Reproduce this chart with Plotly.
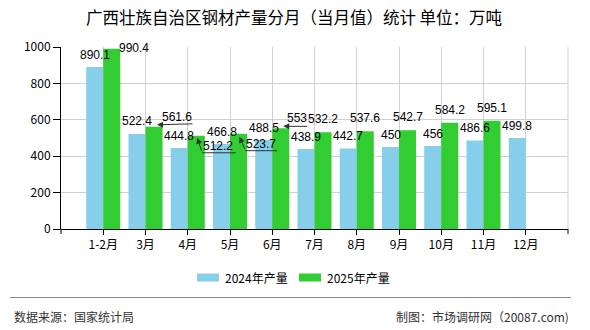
import plotly.graph_objects as go

# ---- data ----
categories = ["1-2月", "3月", "4月", "5月", "6月", "7月", "8月", "9月", "10月", "11月", "12月"]
prod_2024 = [890.1, 522.4, 444.8, 466.8, 488.5, 438.9, 442.7, 450, 456, 486.6, 499.8]
prod_2025 = [990.4, 561.6, 512.2, 523.7, 553, 532.2, 537.6, 542.7, 584.2, 595.1, None]
series_names = ["2024年产量", "2025年产量"]
title_text = "广西壮族自治区钢材产量分月（当月值）统计 单位：万吨"
source_text = "数据来源：国家统计局"
maker_text = "制图：市场调研网（20087.com)"

# ---- style ----
FONT = "Noto Sans CJK SC"
NUMFONT = "Liberation Sans"
C24 = "#87CEEB"
C25 = "#32CD32"
W, H = 590, 330
L, R, T, B = 61, 22, 47, 101
BARGAP = 0.195
half = (1 - BARGAP) / 4  # offset of each bar centre from category centre


def px(x):
    return (x - L) / (W - L - R)


def py(y):
    return (H - B - y) / (H - T - B)


fig = go.Figure()
fig.add_trace(go.Bar(x=categories, y=prod_2024, name=series_names[0], marker_color=C24,
                     marker_line_width=0, showlegend=False))
fig.add_trace(go.Bar(x=categories, y=prod_2025, name=series_names[1], marker_color=C25,
                     marker_line_width=0, showlegend=False))

ann = []
shapes = []
lab_font = dict(family=NUMFONT, size=12, color="#000")

# 2024 labels: centred above blue bars
for i, v in enumerate(prod_2024):
    ann.append(dict(x=i - half, y=v, xref="x", yref="y", text=f"{v:g}", showarrow=False,
                    yanchor="middle", xanchor="center", yshift=12.5, font=lab_font, borderpad=0))

# 2025 labels; some are displaced with leader lines (pixel offsets from bar top, dy down)
special = {
    0: dict(label=(22, -1)),
    1: dict(label=(23, -10), tip=(3, -2), knee=None, tail=(40, -3)),
    2: dict(label=(22, 10), tip=(1, 2), knee=(6, 17), tail=(41, 17)),
    3: dict(label=(22, 10), tip=(1, 3), knee=(7, 17), tail=(40, 17)),
    4: dict(label=(16, -10), tip=(2.5, -2), knee=None, tail=(28, -2)),
}
line_col = "#333333"
for i, v in enumerate(prod_2025):
    if v is None:
        continue
    xc = i + half
    if i in special:
        sp = special[i]
        dx, dy = sp["label"]
        ann.append(dict(x=xc, y=v, xref="x", yref="y", text=f"{v:g}", showarrow=False,
                        xanchor="center", yanchor="middle", xshift=dx, yshift=-dy,
                        font=lab_font, borderpad=0))
        if "tip" in sp:
            tx, ty = sp["tip"]
            start = sp["knee"] if sp["knee"] else sp["tail"]
            ann.append(dict(x=xc, y=v, xref="x", yref="y", text="", showarrow=True,
                            xshift=tx, yshift=-ty, ax=start[0] - tx, ay=start[1] - ty,
                            arrowhead=2, arrowsize=1.2, arrowwidth=1, arrowcolor=line_col,
                            standoff=0, startstandoff=0))
            if sp["knee"]:
                kx, ky = sp["knee"]
                ex, ey = sp["tail"]
                ann.append(dict(x=xc, y=v, xref="x", yref="y", text="", showarrow=True,
                                xshift=kx, yshift=-ky, ax=ex - kx, ay=ey - ky,
                                arrowhead=0, arrowwidth=1, arrowcolor=line_col,
                                standoff=0, startstandoff=0))
    else:
        ann.append(dict(x=xc, y=v, xref="x", yref="y", text=f"{v:g}", showarrow=False,
                        xanchor="center", yanchor="middle", yshift=13, font=lab_font, borderpad=0))

# right frame line and end ticks
shapes.append(dict(type="line", xref="x domain", yref="y domain", x0=1, x1=1, y0=0, y1=1,
                   line=dict(color="#d0d0d0", width=1)))
shapes.append(dict(type="line", xref="paper", yref="paper", x0=1, x1=1, y0=0, y1=py(H - B + 5),
                   line=dict(color="#000", width=1)))
shapes.append(dict(type="line", xref="paper", yref="paper", x0=0, x1=0, y0=0, y1=py(H - B + 5),
                   line=dict(color="#000", width=1)))

# manual legend
leg_items = [(197, C24, series_names[0]), (299, C25, series_names[1])]
for x0, col, name in leg_items:
    shapes.append(dict(type="rect", xref="paper", yref="paper", x0=px(x0), x1=px(x0 + 22),
                       y0=py(281.5), y1=py(273.5), fillcolor=col, line=dict(width=0)))
    ann.append(dict(x=px(x0 + 26), y=py(277.5), xref="paper", yref="paper", text=name,
                    showarrow=False, xanchor="left", yanchor="middle",
                    font=dict(family=FONT, size=12, color="#000")))

# footer
shapes.append(dict(type="line", xref="paper", yref="paper", x0=px(10), x1=px(571),
                   y0=py(297.5), y1=py(297.5), line=dict(color="#888888", width=1.2)))
ann.append(dict(x=px(12), y=py(316), xref="paper", yref="paper", text=source_text,
                showarrow=False, xanchor="left", yanchor="middle",
                font=dict(family=FONT, size=12, color="#333")))
ann.append(dict(x=px(571), y=py(316), xref="paper", yref="paper", text=maker_text,
                showarrow=False, xanchor="right", yanchor="middle",
                font=dict(family=FONT, size=12, color="#333")))

fig.update_layout(
    width=W, height=H,
    margin=dict(l=L, r=R, t=T, b=B, pad=0),
    paper_bgcolor="white", plot_bgcolor="white",
    barmode="group", bargap=BARGAP, bargroupgap=0,
    title=dict(text=title_text, xref="container", x=294 / W, xanchor="center",
               yref="container", y=1 - 18.5 / H, yanchor="middle",
               font=dict(family=FONT, size=16.5, color="#000")),
    font=dict(family=FONT, size=12, color="#000"),
    annotations=ann, shapes=shapes,
    showlegend=False,
)
fig.update_xaxes(type="category", range=[-1, 11], showgrid=True, gridcolor="#d0d0d0", gridwidth=1,
                 showline=True, linecolor="#000", linewidth=1, ticks="outside", ticklen=5,
                 tickcolor="#000", tickfont=dict(family=FONT, size=12, color="#000"), zeroline=False)
fig.update_yaxes(range=[0, 1000], dtick=200, showgrid=True, gridcolor="#d0d0d0", gridwidth=1,
                 showline=True, linecolor="#000", linewidth=1, ticks="outside", ticklen=7,
                 tickcolor="#000", tickfont=dict(family=FONT, size=12, color="#000"), zeroline=False)

fig.write_html("out.html")
